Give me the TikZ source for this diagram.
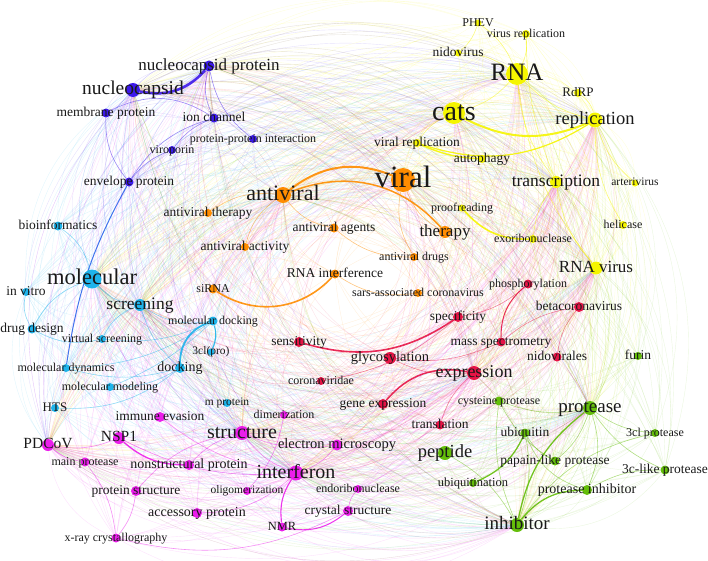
\documentclass[tikz,border=0pt]{standalone}
\usepackage{fontspec}
\setmainfont{Liberation Serif}
\usetikzlibrary{backgrounds}
\definecolor{cblue}{RGB}{60,25,235}
\definecolor{ccyan}{RGB}{30,180,235}
\definecolor{corange}{RGB}{255,140,0}
\definecolor{cyellow}{RGB}{245,245,0}
\definecolor{cred}{RGB}{230,20,70}
\definecolor{cgreen}{RGB}{100,190,10}
\definecolor{cmag}{RGB}{235,30,235}

\begin{document}
\begin{tikzpicture}[
		x=1pt, y=-1pt,
		dot/.style={circle, fill=#1, inner sep=0pt},
		lbl/.style={font=\fontsize{#1}{#1}\selectfont, inner sep=0pt, text height=0.7*#1pt, text depth=0.2*#1pt, text=black!90},
		faint/.style={draw=#1, line width=0.4pt, opacity=0.13},
		link/.style={draw=#1, opacity=0.9},
		thin link/.style={draw=#1, opacity=0.5, line width=0.6pt}
	]
	\useasboundingbox (0,0) rectangle (708,560);
	% keywords: name/x/y/dot size/font size/colour/label
	\def\kwlist{
		nucprot/209/66/11/17/cblue/nucleocapsid protein,
		nuc/133/90/14/19.5/cblue/nucleocapsid,
		memb/106/113/9/13.5/cblue/membrane protein,
		ionch/214/118/9/13.5/cblue/ion channel,
		ppi/253/139/8/12/cblue/protein-protein interaction,
		virop/172/150/8/12/cblue/viroporin,
		envel/129/182/9/13.5/cblue/envelope protein,
		bioinf/58/226/9/13.5/ccyan/bioinformatics,
		molec/92/279/19/22.5/ccyan/molecular,
		invitro/26/292/8/13.5/ccyan/in vitro,
		screen/140/305/12/17.5/ccyan/screening,
		drugdes/32/329/9/13.5/ccyan/drug design,
		vscreen/102/339/8/12/ccyan/virtual screening,
		moldock/213/321/9/12/ccyan/molecular docking,
		clpro/211/352/7/11.5/ccyan/3cl(pro),
		dock/180/368/10/14/ccyan/docking,
		moldyn/66/368/8/12/ccyan/molecular dynamics,
		molmod/110/387/8/12/ccyan/molecular modeling,
		hts/55/408/8/13/ccyan/HTS,
		mprot/227/403/8/11.5/ccyan/m protein,
		viral/403/180/24/31/corange/viral,
		antiv/283/195/16/22/corange/antiviral,
		avther/208/213/8/13.5/corange/antiviral therapy,
		avag/334/228/9/13.5/corange/antiviral agents,
		ther/445/232/12/17/corange/therapy,
		avact/245/247/8/13.5/corange/antiviral activity,
		avdrug/414/257/8/12/corange/antiviral drugs,
		rnai/335/274/9/13.5/corange/RNA interference,
		sirna/213/289/9/12/corange/siRNA,
		sars/418/293/8/12/corange/sars-associated coronavirus,
		phev/478/23/7/12/cyellow/PHEV,
		virrep/526/34/8/12/cyellow/virus replication,
		nidov/458/53/7/13.5/cyellow/nidovirus,
		rna/517/74/22/25/cyellow/RNA,
		cats/454/113/22/28/cyellow/cats,
		rdrp/578/93/8/13/cyellow/RdRP,
		repl/595/120/15/18.5/cyellow/replication,
		viralrep/417/143/8/13.5/cyellow/viral replication,
		autoph/482/159/8/13.5/cyellow/autophagy,
		transc/556/182/12/17.5/cyellow/transcription,
		arteri/635/183/7/11.5/cyellow/arterivirus,
		proof/462/208/7/12/cyellow/proofreading,
		helic/623/225/8/12/cyellow/helicase,
		exori/533/239/8/12/cyellow/exoribonuclease,
		rnavir/596/268/13/17/cyellow/RNA virus,
		phos/528/284/9/12/cred/phosphorylation,
		beta/579/307/10/13.5/cred/betacoronavirus,
		spec/458/317/10/13.5/cred/specificity,
		sens/299/342/10/13.5/cred/sensitivity,
		mass/501/342/9/13.5/cred/mass spectrometry,
		glyco/390/358/12/14.5/cred/glycosylation,
		nidovir/557/357/9/13.5/cred/nidovirales,
		expr/474/373/14/18/cred/expression,
		corvir/321/381/8/12/cred/coronaviridae,
		geneexp/383/404/10/13.5/cred/gene expression,
		transl/440/425/9/13.5/cred/translation,
		furin/638/356/8/13.5/cgreen/furin,
		cysprot/499/401/9/12/cgreen/cysteine protease,
		prot/590/408/14/19/cgreen/protease,
		ubiq/525/433/9/13.5/cgreen/ubiquitin,
		clprot/655/433/8/12/cgreen/3cl protease,
		pept/445/453/14/18.5/cgreen/peptide,
		papain/555/461/9/13.5/cgreen/papain-like protease,
		clike/665/470/9/13.5/cgreen/3c-like protease,
		ubiqn/473/483/8/12.5/cgreen/ubiquitination,
		protinh/587/490/10/14/cgreen/protease inhibitor,
		inhib/517/525/14/19/cgreen/inhibitor,
		immune/160/417/10/13.5/cmag/immune evasion,
		nsp/119/438/12/15.5/cmag/NSP1,
		dimer/284/415/8/12/cmag/dimerization,
		pdcov/48/445/12/15.5/cmag/PDCoV,
		struct/242/433/14/20/cmag/structure,
		elmic/337/445/11/14.5/cmag/electron microscopy,
		mainprot/85/462/9/12/cmag/main protease,
		nonstr/189/465/10/14/cmag/nonstructural protein,
		interf/296/473/15/20/cmag/interferon,
		oligo/247/491/8/11.5/cmag/oligomerization,
		protstr/136/491/10/13.5/cmag/protein structure,
		endori/358/489/8/12/cmag/endoribonuclease,
		access/197/513/10/14/cmag/accessory protein,
		cryst/348/511/10/13.5/cmag/crystal structure,
		nmr/282/527/9/12.5/cmag/NMR,
		xray/116/538/9/12/cmag/x-ray crystallography}
	\foreach \nm/\px/\py/\dia/\fs/\col/\txt in \kwlist
		\node[dot=\col, minimum size=\dia pt] (\nm) at (\px,\py) {};

	\begin{scope}[on background layer]
		% faint links to the big keywords, bent away from the middle
		\foreach \nm/\px/\py/\dia/\fs/\col/\txt in \kwlist
			\foreach \hb/\hx/\hy in {viral/403/180, rna/517/74, cats/454/113, antiv/283/195, molec/92/279,
					expr/474/373, prot/590/408, inhib/517/525, struct/242/433, interf/296/473,
					nuc/133/90, repl/595/120, screen/140/305, transc/556/182, nucprot/209/66,
					rnavir/596/268, pdcov/48/445}
				{\edef\tmpa{\nm}\edef\tmpb{\hb}
				\ifx\tmpa\tmpb\else
					\pgfmathsetmacro\bnd{((\px-354)/10*(\hy-280)/10-(\py-280)/10*(\hx-354)/10)>0 ? -30 : 30}
					\draw[faint=\col] (\nm) to[bend right=\bnd] (\hb);
				\fi}
		% clear links
		\foreach \a/\b/\col/\w/\bd in {
				nuc/nucprot/cblue/2.6/30, moldock/dock/ccyan/1.8/35, viral/antiv/corange/2/30,
				ther/antiv/corange/1.5/35, sirna/rnai/corange/1.6/40, cats/repl/cyellow/2/25,
				viralrep/autoph/cyellow/1.4/10, viralrep/repl/cyellow/1.2/25, proof/exori/cyellow/1.6/25,
				sens/spec/cred/1.6/25, expr/geneexp/cred/1.5/30, phos/mass/cred/1/25,
				prot/inhib/cgreen/1.3/20, protinh/inhib/cgreen/1.3/25, ubiqn/ubiq/cgreen/1.3/20,
				nsp/nonstr/cmag/1.3/20, interf/nmr/cmag/1.1/20, nmr/cryst/cmag/1/25,
				envel/moldyn/cblue!50!ccyan/1/10, clpro/moldock/ccyan/1.1/20}
			\draw[link=\col, line width=\w pt] (\a) to[bend right=\bd] (\b);
		\foreach \a/\b/\col/\bd in {
				ionch/memb/cblue/30, ionch/envel/cblue/20, ionch/virop/cblue/15, virop/envel/cblue/15,
				nucprot/ionch/cblue/20, nucprot/ppi/cblue/20, memb/envel/cblue/20,
				screen/vscreen/ccyan/20, screen/dock/ccyan/15, molec/screen/ccyan/20, molec/bioinf/ccyan/20,
				drugdes/vscreen/ccyan/20, moldyn/dock/ccyan/15, molmod/dock/ccyan/15, hts/dock/ccyan/20,
				vscreen/moldock/ccyan/15, invitro/drugdes/ccyan/20, molec/drugdes/ccyan/20,
				screen/moldock/ccyan/20, moldyn/moldock/ccyan/15, molmod/moldock/ccyan/10,
				rnai/sars/corange/20, antiv/avact/corange/20, antiv/avther/corange/20, antiv/avag/corange/20,
				viral/ther/corange/20, viral/avdrug/corange/20, avag/avdrug/corange/20,
				rna/transc/cyellow/15, rna/repl/cyellow/15, virrep/transc/cyellow/10, rna/rnavir/cyellow/15,
				rna/nidov/cyellow/15, rna/phev/cyellow/15, rna/virrep/cyellow/15, repl/rdrp/cyellow/20,
				repl/arteri/cyellow/15, repl/helic/cyellow/15, transc/rnavir/cyellow/15,
				transc/exori/cyellow/15, cats/viralrep/cyellow/15, cats/rna/cyellow/15, nidov/phev/cyellow/15,
				expr/transl/cred/15, glyco/mass/cred/15, corvir/spec/cred/15, beta/mass/cred/15,
				beta/nidovir/cred/15, glyco/expr/cred/15, spec/phos/cred/15,
				protinh/prot/cgreen/20, ubiq/papain/cgreen/15, ubiq/protinh/cgreen/25, cysprot/prot/cgreen/15,
				prot/clprot/cgreen/15, prot/clike/cgreen/15, clike/protinh/cgreen/15, cysprot/papain/cgreen/15,
				inhib/ubiq/cgreen/15, inhib/pept/cgreen/15, papain/prot/cgreen/15, clprot/inhib/cgreen/20,
				cysprot/inhib/cgreen/15,
				nsp/interf/cmag/15, xray/protstr/cmag/15, xray/cryst/cmag/20, xray/mainprot/cmag/15,
				struct/protstr/cmag/20, access/interf/cmag/20, interf/elmic/cmag/15, immune/interf/cmag/15,
				pdcov/nsp/cmag/15, struct/nonstr/cmag/15, struct/interf/cmag/15, struct/elmic/cmag/15,
				oligo/dimer/cmag/15, endori/cryst/cmag/15, pdcov/mainprot/cmag/15}
			\draw[thin link=\col] (\a) to[bend right=\bd] (\b);
	\end{scope}

	\foreach \nm/\px/\py/\dia/\fs/\col/\txt in \kwlist
		\node[lbl=\fs] (\nm-l) at (\nm) {\txt};
\end{tikzpicture}
\end{document}
